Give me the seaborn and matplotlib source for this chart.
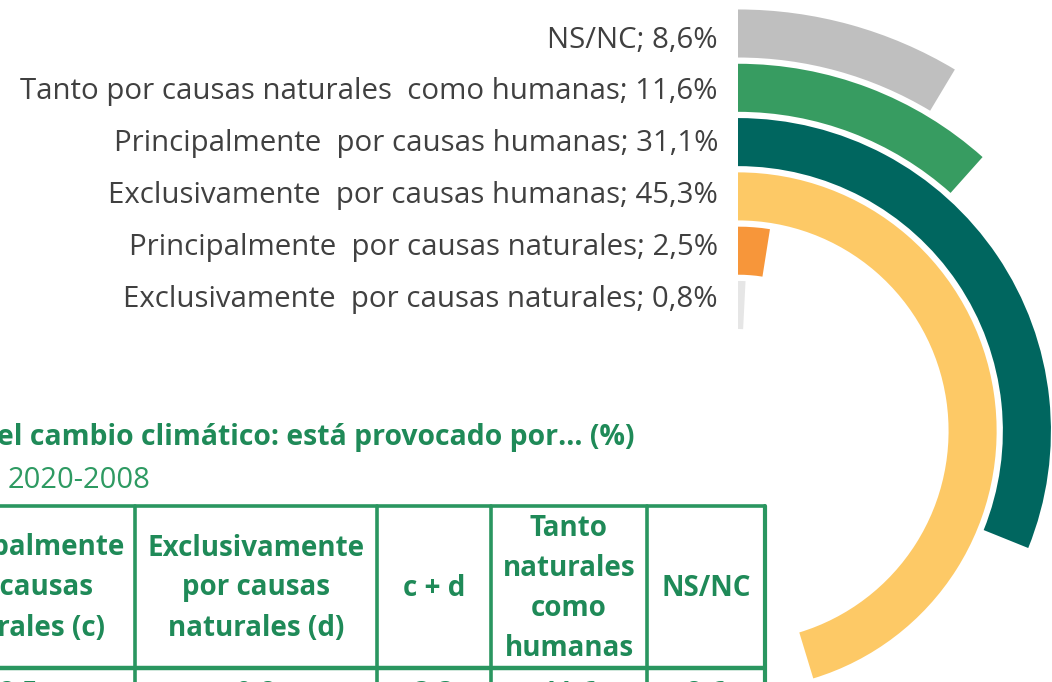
import numpy as np
import pandas as pd
import matplotlib
matplotlib.use("Agg")
import matplotlib.pyplot as plt
import seaborn as sns

# ---- data (2020) ----
categories = [
    "Exclusivamente  por causas naturales",
    "Principalmente  por causas naturales",
    "Exclusivamente  por causas humanas",
    "Principalmente  por causas humanas",
    "Tanto por causas naturales  como humanas",
    "NS/NC",
]
values = [0.8, 2.5, 45.3, 31.1, 11.6, 8.6]
colors = ["#E6E6E6", "#F7963A", "#FDC966", "#00665F", "#379C61", "#BFBFBF"]

title_text = "el cambio climático: está provocado por… (%)"
subtitle_text = "2020-2008"
table_headers = [
    "Principalmente\npor causas\nnaturales (c)",
    "Exclusivamente\npor causas\nnaturales (d)",
    "c + d",
    "Tanto\nnaturales\ncomo\nhumanas",
    "NS/NC",
]

sns.set_theme(style="white")
plt.rcParams["font.family"] = ["Open Sans", "DejaVu Sans"]

W, H = 1052, 682
fig = plt.figure(figsize=(W / 100, H / 100), dpi=100)
fig.patch.set_facecolor("white")

# ---- radial bar chart (polar axes, 100 % = full turn) ----
R = 440.0            # radial limit, one unit = one pixel
CX, CY = 738, 251    # centre of the rings, pixels from bottom-left
INNER, PITCH = 126.0, 54.3
ax = fig.add_axes([(CX - R) / W, (CY - R) / H, 2 * R / W, 2 * R / H],
                  projection="polar")
ax.set_theta_zero_location("N")
ax.set_theta_direction(-1)

df = pd.DataFrame({"categoria": categories, "pct": values})
df["theta"] = df["pct"] / 100 * 2 * np.pi
df["radio"] = INNER + PITCH * np.arange(len(df))

sns.barplot(data=df, x="theta", y="radio", hue="categoria", orient="y",
            native_scale=True, palette=dict(zip(categories, colors)),
            saturation=1, width=0.885, errorbar=None, legend=False,
            linewidth=0, dodge=False, ax=ax)
ax.set_ylim(0, R)
ax.set_xlim(0, 2 * np.pi)
ax.axis("off")

# category labels sit left of the start line, stacked a little tighter
# than the rings themselves
LABEL_TOP, LABEL_STEP = 40, 52
n = len(df)
for k, (cat, val, r) in enumerate(zip(df["categoria"], df["pct"], df["radio"])):
    label = f"{cat}; {val:.1f}%".replace(".", ",")
    ring_y = (H - CY) - r                       # ring centre, px from top
    label_y = LABEL_TOP + LABEL_STEP * (n - 1 - k)
    ax.annotate(label, xy=(0, r), xycoords="data",
                xytext=(-20, ring_y - label_y), textcoords="offset pixels",
                ha="right", va="center", fontsize=21.2, color="#404040",
                annotation_clip=False)

# ---- title and table ----
ov = fig.add_axes([0, 0, 1, 1])
ov.set_xlim(0, W)
ov.set_ylim(H, 0)
ov.axis("off")
ov.set_zorder(-1)

green_txt = "#1F8A58"
green_line = "#2A9660"
ov.text(-3, 438, title_text, fontsize=20.4, fontweight="bold",
        color=green_txt, ha="left", va="center")
ov.text(8, 481, subtitle_text, fontsize=21, color="#2E9A62",
        ha="left", va="center")

col_edges = [-97, 135, 377, 491, 647, 765]
top, head_bot = 506, 668
ov.plot([-5, col_edges[-1]], [top, top], color=green_line, lw=2.6,
        solid_capstyle="butt")
ov.plot([-5, col_edges[-1]], [head_bot, head_bot], color=green_line, lw=3.2,
        solid_capstyle="butt")
for x in col_edges[1:]:
    ov.plot([x, x], [top, H + 5], color=green_line,
            lw=2.6 if x != col_edges[-1] else 3.0)

row_vals = [values[1], values[0], values[0] + values[1], values[4], values[5]]
for i, head in enumerate(table_headers):
    cx = (col_edges[i] + col_edges[i + 1]) / 2
    ov.text(cx, (top + head_bot) / 2 + 1, head, fontsize=20, fontweight="bold",
            color=green_txt, ha="center", va="center", linespacing=1.5)
    ov.text(cx, 702, f"{row_vals[i]:.1f}".replace(".", ","), fontsize=20,
            fontweight="bold", color=green_txt, ha="center", va="baseline")

fig.savefig("out.png", dpi=100, facecolor="white")
